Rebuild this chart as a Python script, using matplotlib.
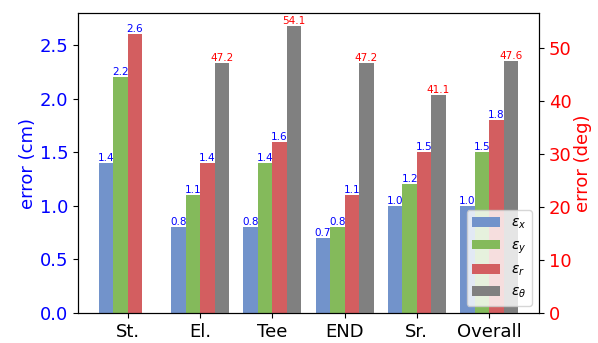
import numpy as np
import matplotlib
matplotlib.use("Agg")
import matplotlib.pyplot as plt

categories = ["St.", "El.", "Tee", "END", "Sr.", "Overall"]
err_x = [1.4, 0.8, 0.8, 0.7, 1.0, 1.0]
err_y = [2.2, 1.1, 1.4, 0.8, 1.2, 1.5]
err_r = [2.6, 1.4, 1.6, 1.1, 1.5, 1.8]
err_theta = [np.nan, 47.2, 54.1, 47.2, 41.1, 47.6]

x = np.arange(len(categories))
w = 0.2

fig = plt.figure(figsize=(5.98, 3.43), dpi=100)
ax = fig.add_axes([0.1304, 0.0875, 0.7709, 0.8745])
ax2 = ax.twinx()

b1 = ax.bar(x - 1.5 * w, err_x, w, color="#7293CB", label=r"$\varepsilon_x$")
b2 = ax.bar(x - 0.5 * w, err_y, w, color="#84BA5B", label=r"$\varepsilon_y$")
b3 = ax.bar(x + 0.5 * w, err_r, w, color="#D35E60", label=r"$\varepsilon_r$")
b4 = ax2.bar(x + 1.5 * w, err_theta, w, color="#808080", label=r"$\varepsilon_\theta$")

# value labels on top of bars
for bars in [b1, b2, b3]:
    for rect in bars:
        h = rect.get_height()
        ax.text(rect.get_x() + rect.get_width() / 2, h, "%.1f" % h,
                ha="center", va="bottom", color="b", fontsize=7.5)
for rect in b4:
    h = rect.get_height()
    if np.isnan(h):
        continue
    ax2.text(rect.get_x() + rect.get_width() / 2, h, "%.1f" % h,
             ha="center", va="bottom", color="r", fontsize=7.5)

ax.set_ylim(0, 2.8)
ax2.set_ylim(0, 56.6)
ax.set_yticks([0.0, 0.5, 1.0, 1.5, 2.0, 2.5])
ax2.set_yticks([0, 10, 20, 30, 40, 50])
ax.set_xticks(x)
ax.set_xticklabels(categories, fontsize=13)

ax.set_ylabel("error (cm)", color="b", fontsize=13, labelpad=2)
ax2.set_ylabel("error (deg)", color="r", fontsize=13, labelpad=2)
ax.tick_params(axis="y", labelcolor="b", labelsize=13)
ax2.tick_params(axis="y", labelcolor="r", labelsize=13)

handles = [b1, b2, b3, b4]
ax2.legend(handles, [h.get_label() for h in handles], loc="lower right", fontsize=10)

fig.savefig("out.png", dpi=100)
